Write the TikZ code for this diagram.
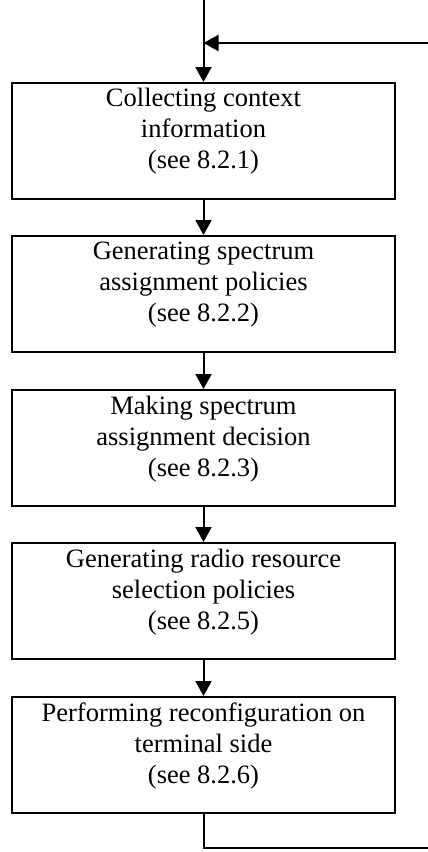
\documentclass[tikz,border=0pt]{standalone}
\usepackage{fontspec}
\setmainfont{Liberation Serif}
\usetikzlibrary{arrows.meta}
\begin{document}
\begin{tikzpicture}[x=1pt,y=-1pt,
  stepbox/.style={draw, line width=2pt, minimum width=383pt, minimum height=116pt,
                  inner sep=0pt, anchor=north},
  steptext/.style={anchor=north, align=center, inner sep=0pt,
                   font=\fontsize{26.5pt}{31pt}\selectfont},
  flow/.style={line width=2pt, -{Triangle[length=15pt,width=16pt]}},
  plain/.style={line width=2pt}]
\useasboundingbox (0,0) rectangle (428,852);

% the five process steps
\node[stepbox] (b1) at (203.5,82)  {};
\node[stepbox] (b2) at (203.5,235) {};
\node[stepbox] (b3) at (203.5,389) {};
\node[stepbox] (b4) at (203.5,542) {};
\node[stepbox] (b5) at (203.5,696) {};

\node[steptext] (t1) at ([yshift=-6pt]b1.north) {Collecting context\\information\\(see 8.2.1)};
\node[steptext] (t2) at ([yshift=-7pt]b2.north) {Generating spectrum\\assignment policies\\(see 8.2.2)};
\node[steptext] (t3) at ([yshift=-7pt]b3.north) {Making spectrum\\assignment decision\\(see 8.2.3)};
\node[steptext] (t4) at ([yshift=-7pt]b4.north) {Generating radio resource\\selection policies\\(see 8.2.5)};
\node[steptext] (t5) at ([yshift=-7pt]b5.north) {Performing reconfiguration on\\terminal side\\(see 8.2.6)};

% entry, loop-back and exit points
\coordinate (start) at (203.5,0);
\coordinate (join)  at (203.5,43);
\coordinate (back)  at (428,43);
\coordinate (turn)  at (203.5,848);
\coordinate (out)   at (428,848);

\draw[plain] (start) -- (join);
\draw[flow] (join) -- (b1.north);
\draw[flow] (back) -- (join);

\draw[flow] (b1.south) -- (b2.north);
\draw[flow] (b2.south) -- (b3.north);
\draw[flow] (b3.south) -- (b4.north);
\draw[flow] (b4.south) -- (b5.north);

\draw[plain] (b5.south) -- (turn) -- (out);
\end{tikzpicture}
\end{document}
